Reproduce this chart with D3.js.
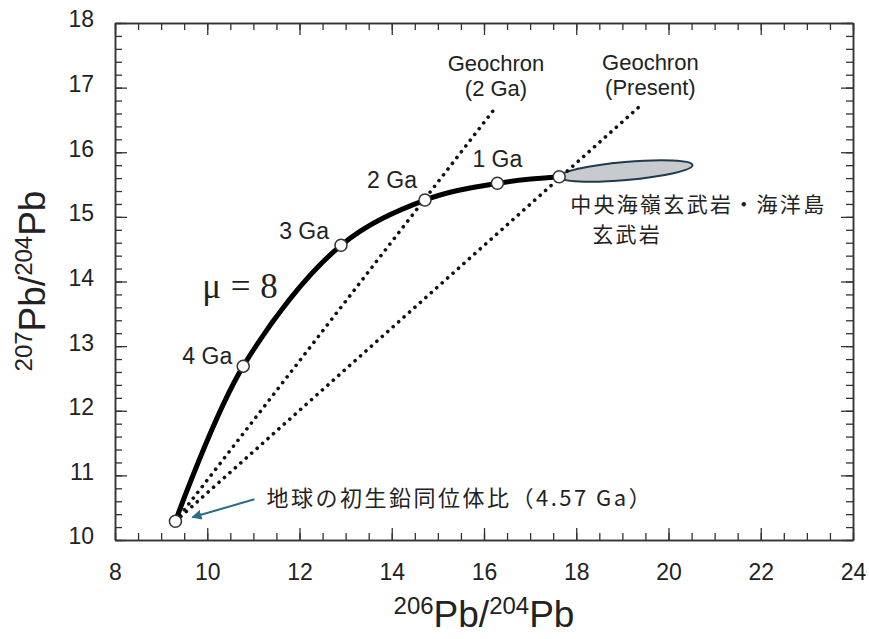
<!DOCTYPE html>
<html>
<head>
<meta charset="utf-8">
<script src="https://cdn.jsdelivr.net/npm/d3@7"></script>
<style>
  body { margin: 0; background: #fff; }
  svg text { font-family: "Liberation Sans", Arial, sans-serif; fill: #222; }
  .axis .domain { stroke: #333; stroke-width: 1.5; }
  .axis .tick line { stroke: #333; stroke-width: 1.3; }
  .jp { font-family: "Noto Sans CJK JP", sans-serif; }
</style>
</head>
<body>
<svg id="chart" width="869" height="639"></svg>
<script>
// mu = 8 growth curve
var ageLabels = ["4.57 Ga", "4 Ga", "3 Ga", "2 Ga", "1 Ga", "0 Ga"];
var pb206 = [9.31, 10.78, 12.90, 14.72, 16.29, 17.63];
var pb207 = [10.29, 12.69, 14.56, 15.26, 15.52, 15.62];

// geochrons: both start at the primordial point, these are the upper ends
var geochronNames = [["Geochron", "(2 Ga)"], ["Geochron", "(Present)"]];
var geochronEnd206 = [16.26, 19.39];
var geochronEnd207 = [16.70, 16.72];

// MORB / OIB field, ends of the long axis
var fieldEnd206 = [17.63, 20.52];
var fieldEnd207 = [15.62, 15.80];

var xTicks = [8, 10, 12, 14, 16, 18, 20, 22, 24];
var yTicks = [10, 11, 12, 13, 14, 15, 16, 17, 18];

var svg = d3.select("#chart");
var margin = {top: 23, right: 16, bottom: 99, left: 115};
var width = 869 - margin.left - margin.right,
    height = 639 - margin.top - margin.bottom;

var g = svg.append("g")
    .attr("transform", "translate(" + margin.left + "," + margin.top + ")");

var x = d3.scaleLinear().domain([8, 24]).range([0, width]);
var y = d3.scaleLinear().domain([10, 18]).range([height, 0]);

var xMinor = d3.range(16 * 2 + 1).map(function(i) { return 8 + i * 0.5; });
var yMinor = d3.range(8 * 5 + 1).map(function(i) { return 10 + i * 0.2; });

// axes, ticks inward on all four sides
function addAxis(axisFn, scale, major, minor, transform, labelled, padding) {
  g.append("g").attr("class", "axis").attr("transform", transform)
    .call(axisFn(scale).tickValues(minor).tickSize(-7).tickSizeOuter(0).tickFormat(""));
  return g.append("g").attr("class", "axis").attr("transform", transform)
    .call(axisFn(scale).tickValues(major).tickSize(-12).tickSizeOuter(0)
      .tickPadding(padding || 3)
      .tickFormat(labelled ? d3.format("d") : ""));
}

var xAxis = addAxis(d3.axisBottom, x, xTicks, xMinor, "translate(0," + height + ")", true, 24);
addAxis(d3.axisTop, x, xTicks, xMinor, "translate(0,0)", false);
var yAxis = addAxis(d3.axisLeft, y, yTicks, yMinor, "translate(0,0)", true, 21);
addAxis(d3.axisRight, y, yTicks, yMinor, "translate(" + width + ",0)", false);

xAxis.selectAll("text").style("font-size", "23px").style("font-family", "Liberation Sans, Arial, sans-serif").attr("fill", "#222");
yAxis.selectAll("text").style("font-size", "23px").style("font-family", "Liberation Sans, Arial, sans-serif").attr("fill", "#222")
  .attr("dy", "0.17em");

// MORB / OIB field
var fa = [x(fieldEnd206[0]), y(fieldEnd207[0])],
    fb = [x(fieldEnd206[1]), y(fieldEnd207[1])];
var fieldAngle = Math.atan2(fb[1] - fa[1], fb[0] - fa[0]) * 180 / Math.PI;
var fieldLen = Math.hypot(fb[0] - fa[0], fb[1] - fa[1]);
g.append("ellipse")
    .attr("cx", 0).attr("cy", 0)
    .attr("rx", fieldLen / 2).attr("ry", 9)
    .attr("transform", "translate(" + ((fa[0] + fb[0]) / 2) + "," + ((fa[1] + fb[1]) / 2) + ") rotate(" + fieldAngle + ")")
    .attr("fill", "#c8cbce")
    .attr("stroke", "#1e3a4c")
    .attr("stroke-width", 2);

// geochrons (dotted)
geochronEnd206.forEach(function(d, i) {
  g.append("line")
      .attr("x1", x(pb206[0])).attr("y1", y(pb207[0]))
      .attr("x2", x(d)).attr("y2", y(geochronEnd207[i]))
      .attr("stroke", "#111")
      .attr("stroke-width", 3.6)
      .attr("stroke-linecap", "round")
      .attr("stroke-dasharray", "0.1 7.2");
});

// growth curve
var curvePts = pb206.map(function(d, i) { return [d, pb207[i]]; });
var line = d3.line()
    .x(function(d) { return x(d[0]); })
    .y(function(d) { return y(d[1]); })
    .curve(d3.curveCatmullRom.alpha(0.5));

g.append("path")
    .datum(curvePts)
    .attr("d", line)
    .attr("fill", "none")
    .attr("stroke", "#000")
    .attr("stroke-width", 5);

g.selectAll(".agePt")
    .data(curvePts)
  .enter().append("circle")
    .attr("class", "agePt")
    .attr("cx", function(d) { return x(d[0]); })
    .attr("cy", function(d) { return y(d[1]); })
    .attr("r", 6)
    .attr("fill", "#fff")
    .attr("stroke", "#333")
    .attr("stroke-width", 1.5);

// age labels  [dx, dy, anchor]
var ageLabelPos = [null, [-11, -2, "end"], [-12, -6, "end"], [-8, -12, "end"], [0, -16, "middle"], null];
curvePts.forEach(function(d, i) {
  var p = ageLabelPos[i];
  if (!p) return;
  g.append("text")
      .attr("x", x(d[0]) + p[0])
      .attr("y", y(d[1]) + p[1])
      .attr("text-anchor", p[2])
      .style("font-size", "23px")
      .text(ageLabels[i]);
});

// geochron labels
var geoLabelDx = [0, 10];
geochronNames.forEach(function(lines, i) {
  lines.forEach(function(s, k) {
    g.append("text")
        .attr("text-anchor", "middle")
        .style("font-size", "22px")
        .attr("x", x(geochronEnd206[i]) + geoLabelDx[i])
        .attr("y", y(geochronEnd207[i]) - 36 + k * 25)
        .text(s);
  });
});

// mu label
g.append("text")
    .attr("x", x(pb206[1]) - 41)
    .attr("y", y(pb207[1]) - 68)
    .style("font-family", "Liberation Serif, Times New Roman, serif")
    .style("font-size", "35px")
    .attr("word-spacing", "1px")
    .text("μ = 8");

// MORB / OIB label
g.append("text").attr("class", "jp")
    .style("font-size", "21px")
    .attr("letter-spacing", "2.3px")
    .attr("x", fa[0] + 11).attr("y", fa[1] + 35)
    .text("中央海嶺玄武岩・海洋島");
g.append("text").attr("class", "jp")
    .style("font-size", "21px")
    .attr("letter-spacing", "2.3px")
    .attr("x", fa[0] + 33).attr("y", fa[1] + 65)
    .text("玄武岩");

// primordial lead arrow + label
var p0 = [x(pb206[0]), y(pb207[0])];
svg.append("defs").append("marker")
    .attr("id", "arrowHead")
    .attr("viewBox", "0 0 10 10")
    .attr("refX", 9).attr("refY", 5)
    .attr("markerWidth", 5).attr("markerHeight", 5)
    .attr("orient", "auto")
  .append("path")
    .attr("d", "M0,0L10,5L0,10z")
    .attr("fill", "#2a6b8a");

g.append("line")
    .attr("x1", p0[0] + 79).attr("y1", p0[1] - 22)
    .attr("x2", p0[0] + 17).attr("y2", p0[1] - 4)
    .attr("stroke", "#2a6b8a")
    .attr("stroke-width", 2)
    .attr("marker-end", "url(#arrowHead)");

g.append("text").attr("class", "jp")
    .attr("x", p0[0] + 91)
    .attr("y", p0[1] - 15)
    .style("font-size", "22px")
    .attr("letter-spacing", "2.5px")
    .text("地球の初生鉛同位体比（4.57 Ga）");

// axis titles
var xTitle = svg.append("text")
    .attr("x", margin.left + width / 2)
    .attr("y", 627)
    .attr("text-anchor", "middle");
xTitle.append("tspan").style("font-size", "24px").attr("dy", -13).text("206");
xTitle.append("tspan").style("font-size", "37px").attr("dy", 13).text("Pb/");
xTitle.append("tspan").style("font-size", "24px").attr("dy", -13).text("204");
xTitle.append("tspan").style("font-size", "37px").attr("dy", 13).text("Pb");

var yTitle = svg.append("text")
    .attr("transform", "translate(45," + (margin.top + 258) + ") rotate(-90)")
    .attr("text-anchor", "middle");
yTitle.append("tspan").style("font-size", "24px").attr("dy", -13).text("207");
yTitle.append("tspan").style("font-size", "37px").attr("dy", 13).text("Pb/");
yTitle.append("tspan").style("font-size", "24px").attr("dy", -13).text("204");
yTitle.append("tspan").style("font-size", "37px").attr("dy", 13).text("Pb");
</script>
</body>
</html>
